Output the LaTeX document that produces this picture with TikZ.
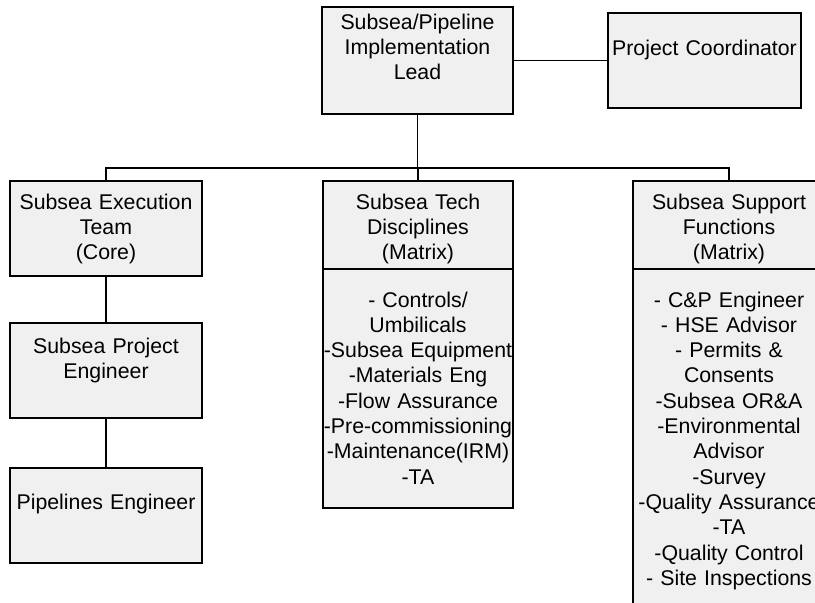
\documentclass[tikz,border=0pt]{standalone}
\usepackage{fontspec}
\setmainfont{Liberation Sans}
\definecolor{boxfill}{HTML}{F0F0F0}
\begin{document}
\begin{tikzpicture}[x=1pt,y=-1pt,
  box/.style={draw=black, line width=1.3pt, fill=boxfill, rectangle, inner sep=0pt},
  lbl/.style={anchor=base, text width=200pt, align=center, inner sep=0pt,
              font=\fontsize{21.3}{25.3}\selectfont},
  conn/.style={draw=black, line width=1.3pt}]
\useasboundingbox (0,0) rectangle (815,603);
\clip (0,0) rectangle (815,603);
\fill[white] (0,0) rectangle (815,603);
% boxes
\node[box, minimum width=191pt, minimum height=107pt] (top) at (417.5,60.5) {};
\node[box, minimum width=193pt, minimum height=95pt] (pc) at (704.5,60.5) {};
\node[box, minimum width=192pt, minimum height=95pt] (lh) at (106,228.5) {};
\node[box, minimum width=192pt, minimum height=95pt] (spe) at (106,370.5) {};
\node[box, minimum width=192pt, minimum height=95pt] (pe) at (106,515.5) {};
\node[box, minimum width=190pt, minimum height=88pt] (mh) at (418,225) {};
\node[box, minimum width=190pt, minimum height=239pt] (mb) at (418,388.5) {};
\node[box, minimum width=192pt, minimum height=88pt] (rh) at (729,225) {};
\node[box, minimum width=192pt, minimum height=346pt] (rb) at (729,442) {};
% connectors
\coordinate (bus) at (417.5,168);
\draw[conn] (top.south) -- (bus);
\draw[conn] (lh.north) |- (bus) -| (rh.north);
\draw[conn] (mh.north) -- (mh.north |- bus);
\draw[conn] (top.east) -- (pc.west);
\draw[conn] (lh.south) -- (spe.north);
\draw[conn] (spe.south) -- (pe.north);
% texts
\node[lbl] (topT) at (417.5,29) {Subsea/Pipeline\\Implementation\\Lead};
\node[lbl] (pcT) at (704.5,55) {Project Coordinator};
\node[lbl] (lhT) at (106,209) {Subsea Execution\\Team\\(Core)};
\node[lbl] (speT) at (106,353) {Subsea Project\\Engineer};
\node[lbl] (peT) at (106,509) {Pipelines Engineer};
\node[lbl] (mhT) at (418,209) {Subsea Tech\\Disciplines\\(Matrix)};
\node[lbl] (mbT) at (418,307) {- Controls/\\Umbilicals\\-Subsea Equipment\\-Materials Eng\\-Flow Assurance\\-Pre-commissioning\\-Maintenance(IRM)\\-TA};
\node[lbl] (rhT) at (729,209) {Subsea Support\\Functions\\(Matrix)};
\node[lbl] (rbT) at (729,307) {- C\&P Engineer\\- HSE Advisor\\- Permits \&\\Consents\\-Subsea OR\&A\\-Environmental\\Advisor\\-Survey\\-Quality Assurance\\-TA\\-Quality Control\\- Site Inspections};
\end{tikzpicture}
\end{document}
